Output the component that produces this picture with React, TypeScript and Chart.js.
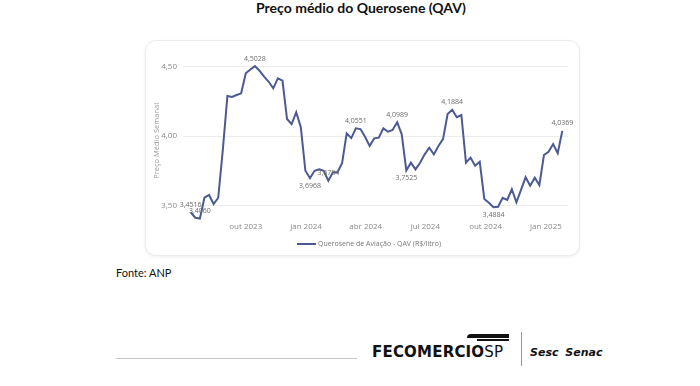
import React, { useEffect, useRef } from "react";
import { Chart, registerables } from "chart.js";

Chart.register(...registerables);

// Weekly series start (first week of data)
const START_DATE = "2023-07-09";
const SERIES_NAME = "Querosene de Aviação - QAV (R$/litro)";

// Weekly average price of QAV (R$/litro)
const prices: number[] = [
  3.4516, 3.412, 3.406, 3.556, 3.576, 3.511, 3.556, 3.9, 4.288, 4.281,
  4.295, 4.307, 4.451, 4.478, 4.5028, 4.47, 4.427, 4.39, 4.343, 4.415,
  4.398, 4.122, 4.086, 4.171, 4.063, 3.75, 3.6968, 3.75, 3.76, 3.75,
  3.6784, 3.739, 3.739, 3.804, 4.019, 3.985, 4.0551, 4.05, 3.995, 3.928,
  3.983, 3.988, 4.055, 4.031, 4.043, 4.0989, 4.012, 3.7525, 3.808, 3.76,
  3.808, 3.868, 3.916, 3.868, 3.928, 3.978, 4.158, 4.1884, 4.135, 4.151,
  3.808, 3.844, 3.786, 3.815, 3.547, 3.52, 3.4884, 3.491, 3.556, 3.54,
  3.617, 3.523, 3.612, 3.703, 3.642, 3.7, 3.647, 3.863, 3.887, 3.942,
  3.876, 4.0369,
];

// Data labels shown on the line: index and side
const labelIndices: number[] = [0, 2, 14, 26, 30, 36, 45, 47, 57, 66, 81];
const labelBelow: boolean[] = [false, false, false, true, false, false, false, true, false, true, false];

// X-axis tick labels and the dates they mark
const tickLabels: string[] = ["out 2023", "jan 2024", "abr 2024", "jul 2024", "out 2024", "jan 2025"];
const tickDates: string[] = ["2023-10-01", "2024-01-01", "2024-04-01", "2024-07-01", "2024-10-01", "2025-01-01"];

// Y-axis ticks
const yTicks: number[] = [3.5, 4.0, 4.5];

const DAY = 86400000;
const dayOffset = (d: string) => (Date.parse(d + "T00:00:00Z") - Date.parse(START_DATE + "T00:00:00Z")) / DAY;
const fmt = (v: number, d: number) => v.toFixed(d).replace(".", ",");

const LINE_COLOR = "#4b5a93";
const FONT = "'Open Sans', 'DejaVu Sans', sans-serif";

export default function App() {
  const ref = useRef<HTMLCanvasElement | null>(null);

  useEffect(() => {
    if (!ref.current) return;
    const points = prices.map((v, i) => ({ x: i * 7, y: v }));
    const tickPos = tickDates.map(dayOffset);

    const labelPlugin = {
      id: "pointLabels",
      afterDatasetsDraw(chart: any) {
        const meta = chart.getDatasetMeta(0);
        const ctx = chart.ctx;
        ctx.save();
        ctx.font = `7px ${FONT}`;
        ctx.fillStyle = "#6b6b6b";
        ctx.textAlign = "center";
        ctx.textBaseline = "middle";
        labelIndices.forEach((idx, k) => {
          const el = meta.data[idx];
          if (!el) return;
          const below = labelBelow[k];
          ctx.fillText(fmt(prices[idx], 4), el.x, el.y + (below ? 8 : -7.5));
        });
        ctx.restore();
      },
    };

    const chart = new Chart(ref.current, {
      type: "line",
      data: {
        datasets: [
          {
            label: SERIES_NAME,
            data: points,
            borderColor: LINE_COLOR,
            borderWidth: 2,
            pointRadius: 0,
            tension: 0,
            fill: false,
          },
        ],
      },
      options: {
        animation: false,
        responsive: false,
        maintainAspectRatio: false,
        layout: { padding: { top: 17.55, right: 12, bottom: 13.8, left: 0 } },
        plugins: { legend: { display: false }, tooltip: { enabled: false } },
        scales: {
          x: {
            type: "linear",
            min: -11.75,
            max: 575.7,
            grid: { display: false, drawTicks: false },
            border: { display: false },
            afterFit: (s: any) => {
              s.height = 20;
            },
            afterBuildTicks: (s: any) => {
              s.ticks = tickPos.map((v) => ({ value: v }));
            },
            ticks: {
              padding: 0,
              autoSkip: false,
              maxRotation: 0,
              color: "#8a8a8a",
              font: { family: FONT, size: 8 },
              callback: (v: any) => {
                const i = tickPos.findIndex((p) => Math.abs(p - Number(v)) < 0.01);
                return i >= 0 ? tickLabels[i] : "";
              },
            },
          },
          y: {
            min: 3.38,
            max: 4.55,
            grid: { color: "#ececec", drawTicks: false, lineWidth: 1 },
            border: { display: false },
            afterFit: (s: any) => {
              s.width = 38;
            },
            afterBuildTicks: (s: any) => {
              s.ticks = yTicks.map((v) => ({ value: v }));
            },
            title: {
              display: true,
              text: "Preço Médio Semanal",
              color: "#9a9a9a",
              font: { family: FONT, size: 7.5 },
              padding: { top: 7.5, bottom: 0 },
            },
            ticks: {
              padding: 6,
              color: "#8a8a8a",
              font: { family: FONT, size: 8 },
              callback: (v: any) => fmt(Number(v), 2),
            },
          },
        },
      },
      plugins: [labelPlugin],
    });
    return () => chart.destroy();
  }, []);

  return (
    <div
      style={{
        position: "absolute",
        left: 0,
        top: 0,
        width: 700,
        height: 386,
        background: "#ffffff",
        overflow: "hidden",
        fontFamily: FONT,
      }}
    >
      <div
        style={{
          position: "absolute",
          left: 0,
          width: 700,
          top: -1,
          textAlign: "center",
          paddingLeft: 22,
          boxSizing: "border-box",
          fontFamily: "Lato, 'Liberation Sans', sans-serif",
          fontWeight: 700,
          fontSize: 14,
          color: "#111",
          lineHeight: "18px",
        }}
      >
        Preço médio do Querosene (QAV)
      </div>
      <div
        style={{
          position: "absolute",
          left: 145,
          top: 40,
          width: 435,
          height: 216,
          border: "1px solid #ececec",
          borderRadius: 11,
          boxShadow: "0 1px 3px rgba(0,0,0,0.07)",
          boxSizing: "border-box",
          background: "#fff",
        }}
      />
      <canvas
        ref={ref}
        width={435}
        height={214}
        style={{ position: "absolute", left: 145, top: 42, width: 435, height: 214 }}
      />
      <div style={{ position: "absolute", left: 297, top: 243, width: 19, height: 2, background: LINE_COLOR }} />
      <div
        style={{
          position: "absolute",
          left: 318,
          top: 239,
          fontSize: 7,
          color: "#777",
          lineHeight: "10px",
          whiteSpace: "nowrap",
        }}
      >
        {SERIES_NAME}
      </div>
      <div
        style={{
          position: "absolute",
          left: 116,
          top: 266,
          fontFamily: "Lato, 'Liberation Sans', sans-serif",
          fontSize: 11,
          color: "#111",
          lineHeight: "14px",
        }}
      >
        Fonte: ANP
      </div>
      <div style={{ position: "absolute", left: 116, top: 358, width: 241, height: 1, background: "#c8c8c8" }} />
      <div style={{ position: "absolute", left: 467, top: 334, width: 42, height: 4, background: "#111", borderRadius: "8px 0 0 0" }} />
      <div style={{ position: "absolute", left: 477, top: 339, width: 32, height: 2, background: "#111" }} />
      <div
        style={{
          position: "absolute",
          left: 372,
          top: 343,
          fontFamily: "'DejaVu Sans', sans-serif",
          fontSize: 15,
          fontWeight: 700,
          color: "#111",
          lineHeight: "18px",
          whiteSpace: "nowrap",
          letterSpacing: 0.2,
        }}
      >
        FECOMERCIO<span style={{ fontWeight: 400 }}>SP</span>
      </div>
      <div style={{ position: "absolute", left: 521, top: 332, width: 1, height: 34, background: "#999" }} />
      <div
        style={{
          position: "absolute",
          left: 530,
          top: 346,
          fontFamily: "'DejaVu Sans', sans-serif",
          fontSize: 11,
          fontWeight: 700,
          fontStyle: "italic",
          color: "#111",
          lineHeight: "14px",
          whiteSpace: "nowrap",
        }}
      >
        Sesc <span style={{ marginLeft: 3 }}>Senac</span>
      </div>
    </div>
  );
}
